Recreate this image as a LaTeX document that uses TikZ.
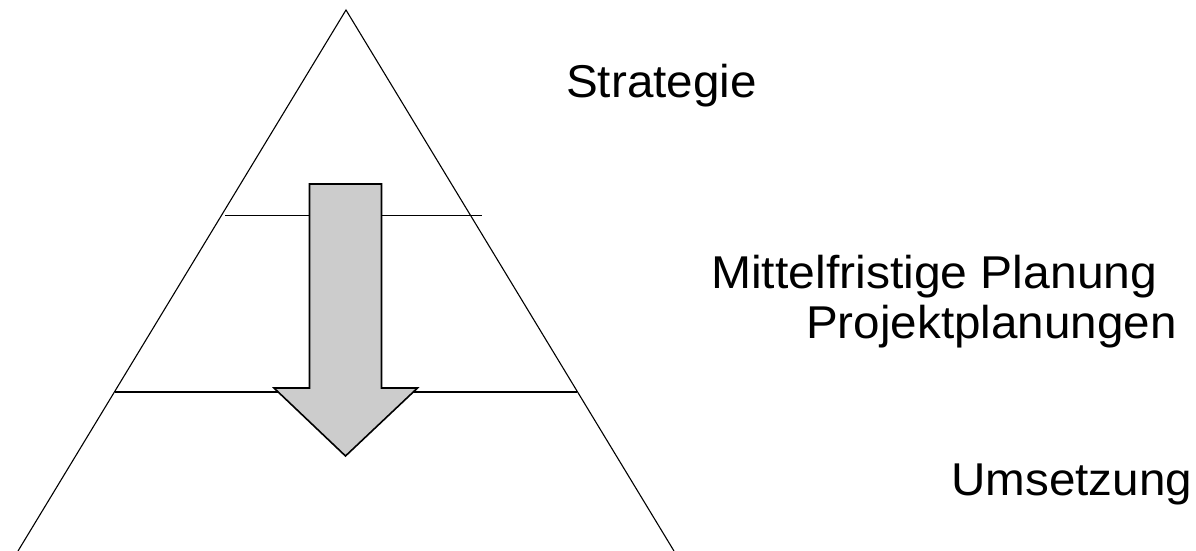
\documentclass[tikz,border=0pt]{standalone}
\usepackage{fontspec}
\usepackage{graphicx}
\setmainfont{Liberation Sans}
\newcommand{\widetext}[2][1.035]{\scalebox{#1}[1]{#2}}
\tikzset{
  label/.style={anchor=base west,inner sep=0pt,font=\fontsize{46}{55}\selectfont},
  edge/.style={draw=black,line width=1.1pt},
  level/.style={draw=black,line width=1.6pt},
  flow/.style={draw=black,line width=1.6pt,fill={rgb,255:red,204;green,204;blue,204},line join=miter}
}
\begin{document}
\begin{tikzpicture}[x=1pt,y=-1pt]
\useasboundingbox (0,0) rectangle (1196,551);
\coordinate (apex) at (346,10);
\coordinate (bl) at (18,551);
\coordinate (br) at (674,551);
\draw[edge] (bl) -- (apex) -- (br);
\coordinate (l1a) at (225,215.5);
\coordinate (l1b) at (482,215.5);
\coordinate (l2a) at (115,392);
\coordinate (l2b) at (577,392);
\draw[level] (l1a) -- (l1b);
\draw[level] (l2a) -- (l2b);
\draw[flow] (309.5,184) -- (381.5,184) -- (381.5,388) -- (417.5,388) -- (345.5,456) -- (274,388) -- (309.5,388) -- cycle;
\node[label] (strat) at (566,97) {\widetext{Strategie}};
\node[label] (mittel) at (711,288) {\widetext[1.045]{Mittelfristige Planung}};
\node[label] (proj) at (806,338) {\widetext{Projektplanungen}};
\node[label] (ums) at (951,495) {\widetext{Umsetzung}};
\end{tikzpicture}
\end{document}
